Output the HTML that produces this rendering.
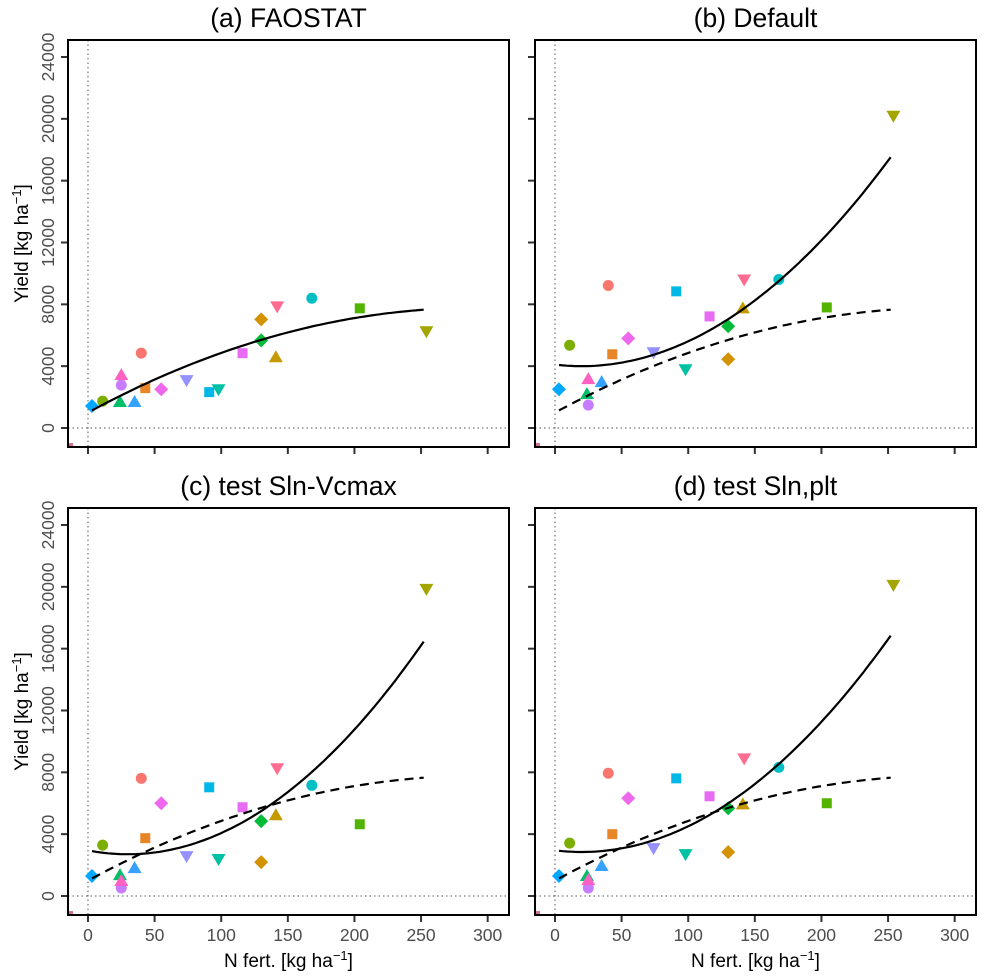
<!DOCTYPE html>
<html><head><meta charset="utf-8"><style>
body{margin:0;background:#fff;}
svg{display:block;font-family:"Liberation Sans",sans-serif;}
</style></head><body>
<svg id="fig" width="984" height="976"></svg>
<script>
const nfert=[3,11,24,25,25,35,43,40,55,74,91,98,116,130,130,141,142,168,204,254,-15];
const colors=["#00a9ff","#7cae00","#00be67","#c77cff","#ff61c3","#35a2ff","#e88526","#f8766d","#ed68ed","#9590ff","#00b8e7","#00c1a3","#e76bf3","#00ba38","#d39200","#c49a00","#ff6c91","#00bfc4","#53b400","#a3a500","#d36f8f"];
const shapes=["d","c","t","c","t","t","s","c","d","v","s","v","s","d","d","t","v","c","s","v","s"];
const yieldA=[1420,1740,1680,2770,3420,1680,2580,4840,2510,3100,2320,2510,4840,5670,7030,4580,7870,8390,7740,6260,-1300];
const yieldB=[2510,5350,2190,1480,3160,2970,4770,9220,5800,4900,8840,3800,7220,6580,4450,7740,9610,9610,7800,20200,-1300];
const yieldC=[1290,3290,1350,520,970,1800,3740,7610,6000,2580,7030,2390,5740,4840,2190,5220,8260,7160,4640,19870,-1300];
const yieldD=[1290,3420,1290,520,1030,1940,4000,7940,6320,3100,7610,2710,6450,5680,2840,5930,8900,8320,6000,20130,-1300];
const fitA=[1000,46.55,-0.08];
const fitB=[4100,-10,0.251];
const fitC=[2950,-16.7,0.279];
const fitD=[2950,-10.4,0.26];
const xTicks=[0,50,100,150,200,250,300];
const yTicks=[0,4000,8000,12000,16000,20000,24000];
const NS="http://www.w3.org/2000/svg";
const svg=document.getElementById('fig');
function el(t,a,p){const e=document.createElementNS(NS,t);for(const k in a)e.setAttribute(k,a[k]);(p||svg).appendChild(e);return e;}
const panels=[
 {l:68,t:40,title:"(a) FAOSTAT",y:yieldA,fit:fitA,dash:false,ylab:true,xlab:false},
 {l:535,t:40,title:"(b) Default",y:yieldB,fit:fitB,dash:true,ylab:false,xlab:false},
 {l:68,t:508,title:"(c) test Sln-Vcmax",y:yieldC,fit:fitC,dash:true,ylab:true,xlab:true},
 {l:535,t:508,title:"(d) test Sln,plt",y:yieldD,fit:fitD,dash:true,ylab:false,xlab:true}];
const W=441,H=407,xmin=-15,xmax=316,ymin=-1230,ymax=25100;
panels.forEach((p,pi)=>{
 const g=el('g',{});
 
 
 const sx=v=>p.l+(v-xmin)/(xmax-xmin)*W;
 const sy=v=>p.t+H-(v-ymin)/(ymax-ymin)*H;
 const cp=el('clipPath',{id:'cp'+pi},g);el('rect',{x:p.l,y:p.t,width:W,height:H},cp);
 const tt=el('text',{x:p.l+W/2,y:p.t-13,'text-anchor':'middle','font-size':26.5,fill:'#000'},g);tt.textContent=p.title;
 
 el('line',{x1:sx(0),x2:sx(0),y1:p.t,y2:p.t+H,stroke:'#555','stroke-dasharray':'1.5 3','stroke-width':1},g);
 el('line',{x1:p.l,x2:p.l+W,y1:sy(0),y2:sy(0),stroke:'#555','stroke-dasharray':'1.5 3','stroke-width':1},g);
 xTicks.forEach(v=>{el('line',{x1:sx(v),x2:sx(v),y1:p.t+H,y2:p.t+H+7,stroke:'#333','stroke-width':2},g);
  if(p.xlab){const t=el('text',{x:sx(v),y:p.t+H+26,'text-anchor':'middle','font-size':17.5,fill:'#4d4d4d'},g);t.textContent=v;}});
 yTicks.forEach(v=>{el('line',{x1:p.l-7,x2:p.l,y1:sy(v),y2:sy(v),stroke:'#333','stroke-width':2},g);
  if(p.ylab){const t=el('text',{x:p.l-14,y:sy(v),'text-anchor':'middle','font-size':17.5,fill:'#4d4d4d',transform:`rotate(-90 ${p.l-14} ${sy(v)})`},g);t.textContent=v;}});
 const cg=el('g',{'clip-path':`url(#cp${pi})`},g);
 function curve(f,dash){let d='';for(let x=3;x<=252;x+=3){const y=f[0]+f[1]*x+f[2]*x*x;d+=(d?'L':'M')+sx(x).toFixed(1)+','+sy(y).toFixed(1);}
  const c=el('path',{d:d,fill:'none',stroke:'#000','stroke-width':2.2,'stroke-dasharray':dash?'9 6':'none'},cg);return c;}
 nfert.forEach((xv,i)=>{const cx=sx(xv),cy=sy(p.y[i]),c=colors[i],s=shapes[i];let m;
  if(s==='c')m=el('circle',{cx:cx,cy:cy,r:5.5,fill:c},cg);
  else if(s==='s')m=el('rect',{x:cx-5,y:cy-5,width:10,height:10,fill:c},cg);
  else if(s==='d')m=el('polygon',{points:`${cx},${cy-7} ${cx+7},${cy} ${cx},${cy+7} ${cx-7},${cy}`,fill:c},cg);
  else if(s==='t')m=el('polygon',{points:`${cx},${cy-7} ${cx+7},${cy+5} ${cx-7},${cy+5}`,fill:c},cg);
  else m=el('polygon',{points:`${cx},${cy+7} ${cx+7},${cy-5} ${cx-7},${cy-5}`,fill:c},cg);
  
  });
 const main=curve(p.fit,false);
 
 
 if(p.dash){const dc=curve(fitA,true);
  
  }
 el('rect',{x:p.l,y:p.t,width:W,height:H,fill:'none',stroke:'#000','stroke-width':2},g);
 if(p.ylab){const t=el('text',{x:28,y:p.t+H/2,'text-anchor':'middle','font-size':19,fill:'#000',transform:`rotate(-90 28 ${p.t+H/2})`},g);
  t.innerHTML='Yield [kg ha<tspan dy="-7" font-size="13">−1</tspan><tspan dy="7">]</tspan>';
  }
 if(p.xlab){const t=el('text',{x:p.l+W/2,y:967,'text-anchor':'middle','font-size':19,fill:'#000'},g);
  t.innerHTML='N fert. [kg ha<tspan dy="-7" font-size="13">−1</tspan><tspan dy="7">]</tspan>';
  }
});
</script>
</body></html>
